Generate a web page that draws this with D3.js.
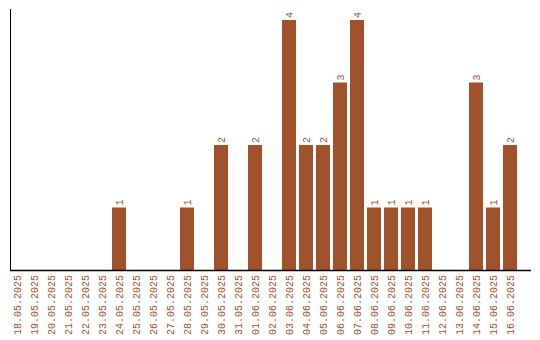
<!DOCTYPE html>
<html><head><meta charset="utf-8">
<script src="https://cdn.jsdelivr.net/npm/d3@7/dist/d3.min.js"></script>
<style>body{margin:0;background:#fff}svg{display:block}text{font-family:"Liberation Mono",monospace;font-size:10px;fill:#a0522d}</style>
</head><body><svg id="c" width="540" height="340"></svg>
<script>
const dates = ["18.05.2025","19.05.2025","20.05.2025","21.05.2025","22.05.2025","23.05.2025","24.05.2025","25.05.2025","26.05.2025","27.05.2025","28.05.2025","29.05.2025","30.05.2025","31.05.2025","01.06.2025","02.06.2025","03.06.2025","04.06.2025","05.06.2025","06.06.2025","07.06.2025","08.06.2025","09.06.2025","10.06.2025","11.06.2025","12.06.2025","13.06.2025","14.06.2025","15.06.2025","16.06.2025"];
const counts = [0,0,0,0,0,0,1,0,0,0,1,0,2,0,2,0,4,2,2,3,4,1,1,1,1,0,0,3,1,2];

const svg = d3.select("#c");
const x = d3.scaleBand().domain(dates).range([10, 517]).paddingInner(3/17).paddingOuter(0);
const y = d3.scaleLinear().domain([0, 4]).range([270, 20]);

svg.selectAll("rect.bar").data(dates).join("rect").attr("class","bar")
  .attr("x", d => x(d)).attr("width", x.bandwidth())
  .attr("y", (d,i) => y(counts[i])).attr("height", (d,i) => y(0) - y(counts[i]))
  .attr("fill", "#a0522d");

svg.selectAll("text.val").data(dates.filter((d,i)=>counts[i]>0)).join("text").attr("class","val")
  .attr("transform", d => `translate(${x(d)+x.bandwidth()/2+3.5},${y(counts[dates.indexOf(d)])-2}) rotate(-90)`)
  .attr("text-anchor","start")
  .text(d => counts[dates.indexOf(d)]);

// axes
svg.append("line").attr("x1",10.5).attr("x2",10.5).attr("y1",9).attr("y2",271).attr("stroke","#000");
svg.append("line").attr("x1",10).attr("x2",531).attr("y1",270.5).attr("y2",270.5).attr("stroke","#000").attr("stroke-width",1.5);

svg.selectAll("text.lab").data(dates).join("text").attr("class","lab")
  .attr("transform", d => `translate(${x(d)+x.bandwidth()/2+3.5},275) rotate(-90)`)
  .attr("text-anchor","end")
  .text(d => d);
</script></body></html>
